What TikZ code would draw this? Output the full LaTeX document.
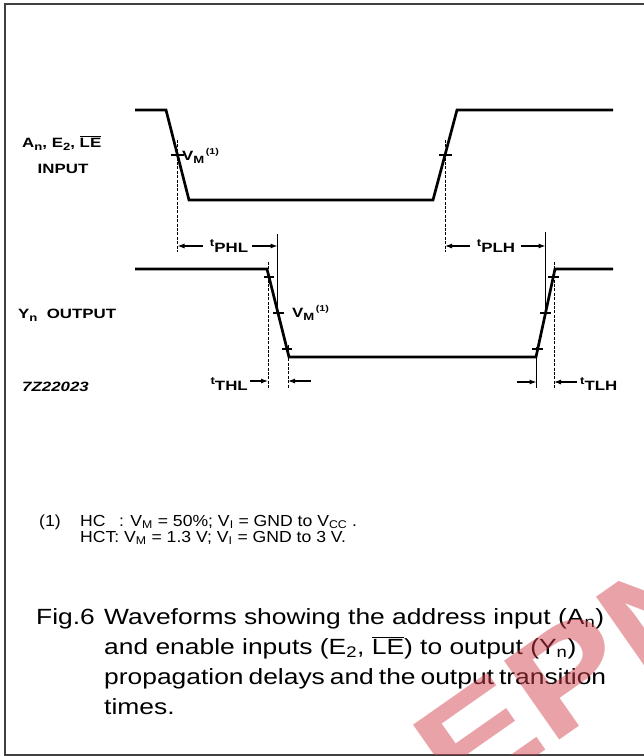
\documentclass[tikz,border=0pt]{standalone}
\usepackage{fontspec}
\setmainfont{Liberation Sans}[FakeStretch=1.2]
\newfontfamily\scan{Liberation Sans}[FakeStretch=1.25]
\newfontfamily\notefont{Liberation Sans}[FakeStretch=1.1]
\usetikzlibrary{arrows.meta}
\definecolor{wmred}{RGB}{208,62,73}
\newcommand\lsub[1]{\raisebox{-3pt}{\fontsize{10.5}{10.5}\selectfont #1}}
\newcommand\tlab[1]{\raisebox{6pt}{\fontsize{10.5}{10.5}\selectfont t}#1}
\newcommand\vmlab{V\lsub{M}\raisebox{5.5pt}{\fontsize{8.5}{8.5}\selectfont\,(1)}}
\begin{document}
\begin{tikzpicture}[x=1pt,y=-1pt,
  frame/.style={line width=2pt, draw=black!75},
  wave/.style={line width=2.7pt, line join=miter},
  tickmark/.style={line width=1.4pt},
  dsh/.style={line width=1pt, dash pattern=on 3pt off 1.4pt},
  solidv/.style={line width=1.1pt},
  dimarr/.style={line width=1.1pt, -{Latex[length=7pt,width=5pt]}},
  lbl/.style={inner sep=0pt, font=\scan\bfseries\fontsize{13.5}{13.5}\selectfont},
  captxt/.style={inner sep=0pt, font=\fontsize{22}{22}\selectfont},
  note/.style={inner sep=0pt, font=\notefont\fontsize{16}{16}\selectfont},
]
\useasboundingbox (0,0) rectangle (644,756);
% frame
\coordinate (fbl) at (5,754.5); \coordinate (ftl) at (5,3.5);
\coordinate (ftr) at (646,3.5); \coordinate (fbr) at (646,754.5);
\draw[frame] (fbr) -- (fbl) -- (ftl) -- (ftr);

% input waveform
\coordinate (i0) at (135,110); \coordinate (i1) at (166,110);
\coordinate (i2) at (189,200); \coordinate (i3) at (433,200);
\coordinate (i4) at (457,110); \coordinate (i5) at (613,110);
\draw[wave] (i0) -- (i1) -- (i2) -- (i3) -- (i4) -- (i5);
% output waveform
\coordinate (o0) at (135,269); \coordinate (o1) at (267,269);
\coordinate (o2) at (289,357); \coordinate (o3) at (536,357);
\coordinate (o4) at (555,269); \coordinate (o5) at (613,269);
\draw[wave] (o0) -- (o1) -- (o2) -- (o3) -- (o4) -- (o5);

% ticks on input
\coordinate (ta1) at (171,155); \coordinate (tb1) at (184,155);
\coordinate (ta2) at (439,155); \coordinate (tb2) at (452,155);
\draw[tickmark] (ta1) -- (tb1);
\draw[tickmark] (ta2) -- (tb2);
% ticks on output falling
\coordinate (ta3) at (264,277); \coordinate (tb3) at (274,277);
\coordinate (ta4) at (273,313); \coordinate (tb4) at (284,313);
\coordinate (ta5) at (282,349); \coordinate (tb5) at (292,349);
\draw[tickmark] (ta3) -- (tb3);
\draw[tickmark] (ta4) -- (tb4);
\draw[tickmark] (ta5) -- (tb5);
% ticks on output rising
\coordinate (ta6) at (532,349); \coordinate (tb6) at (543,349);
\coordinate (ta7) at (540,313); \coordinate (tb7) at (551,313);
\coordinate (ta8) at (548,277); \coordinate (tb8) at (559,277);
\draw[tickmark] (ta6) -- (tb6);
\draw[tickmark] (ta7) -- (tb7);
\draw[tickmark] (ta8) -- (tb8);

% vertical reference lines
\coordinate (d1a) at (177.5,140); \coordinate (d1b) at (177.5,252);
\coordinate (d2a) at (445,140);   \coordinate (d2b) at (445,252);
\draw[dsh] (d1a) -- (d1b);
\draw[dsh] (d2a) -- (d2b);
\coordinate (s1a) at (277.5,234); \coordinate (s1b) at (277.5,313);
\coordinate (s2a) at (545.5,232); \coordinate (s2b) at (545.5,313);
\draw[solidv] (s1a) -- (s1b);
\draw[solidv] (s2a) -- (s2b);
\coordinate (d3a) at (268,262); \coordinate (d3b) at (268,388);
\coordinate (d4a) at (288,345); \coordinate (d4b) at (288,388);
\coordinate (d5a) at (554,262); \coordinate (d5b) at (554,388);
\draw[dsh] (d3a) -- (d3b);
\draw[dsh] (d4a) -- (d4b);
\draw[dsh] (d5a) -- (d5b);
\coordinate (s3a) at (536.5,347); \coordinate (s3b) at (536.5,388);
\draw[solidv] (s3a) -- (s3b);

% dimension arrows
\coordinate (phlL0) at (203,246); \coordinate (phlL) at (177.5,246);
\coordinate (phlR0) at (252,246); \coordinate (phlR) at (277.5,246);
\draw[dimarr] (phlL0) -- (phlL);
\draw[dimarr] (phlR0) -- (phlR);
\coordinate (plhL0) at (470,246); \coordinate (plhL) at (445,246);
\coordinate (plhR0) at (521,246); \coordinate (plhR) at (545.5,246);
\draw[dimarr] (plhL0) -- (plhL);
\draw[dimarr] (plhR0) -- (plhR);
\coordinate (thlA0) at (250,381); \coordinate (thlA) at (268,381);
\coordinate (thlB0) at (311,381); \coordinate (thlB) at (288,381);
\draw[dimarr] (thlA0) -- (thlA);
\draw[dimarr] (thlB0) -- (thlB);
\coordinate (tlhA0) at (517,382); \coordinate (tlhA) at (536.5,382);
\coordinate (tlhB0) at (577,382); \coordinate (tlhB) at (554,382);
\draw[dimarr] (tlhA0) -- (tlhA);
\draw[dimarr] (tlhB0) -- (tlhB);

% labels
\node[lbl, anchor=west] (inname) at (22,143) {A\lsub{n}, E\lsub{2}, $\overline{\mbox{LE}}$};
\node[lbl] (input) at (63,169) {INPUT};
\node[lbl, anchor=west] (vm1) at (182,156) {\vmlab};
\node[lbl, anchor=west] (outname) at (18,315) {Y\lsub{n}\ \ OUTPUT};
\node[lbl, anchor=west, font=\scan\bfseries\itshape\fontsize{13.5}{13.5}\selectfont] (code) at (22,387) {7Z22023};
\node[lbl] (tphl) at (229,246) {\tlab{PHL}};
\node[lbl] (tplh) at (496,246) {\tlab{PLH}};
\node[lbl, anchor=west] (vm2) at (292,313) {\vmlab};
\node[lbl, anchor=east] (tthl) at (248,384) {\tlab{THL}};
\node[lbl, anchor=west] (ttlh) at (580,384) {\tlab{TLH}};

% footnote
\node[note, anchor=base west] (n1) at (39,526) {(1)};
\node[note, anchor=base west] (n2) at (80,526) {HC\phantom{T}\,: V\textsubscript{M} = 50\%; V\textsubscript{I} = GND to V\textsubscript{CC} .};
\node[note, anchor=base west] (n3) at (80,542) {HCT: V\textsubscript{M} = 1.3 V; V\textsubscript{I} = GND to 3 V.};

% caption
\node[captxt, anchor=base west] (fig) at (36,624) {Fig.6};
\node[captxt, anchor=base west] (c1) at (104,624) {Waveforms showing the address input (A\textsubscript{n})};
\node[captxt, anchor=base west] (c2) at (104,654) {and enable inputs (E\textsubscript{2}, $\overline{\mbox{LE}}$) to output (Y\textsubscript{n})};
\node[captxt, anchor=base west] (c3) at (104,684) {\spaceskip=5pt propagation delays and the output transition};
\node[captxt, anchor=base west] (c4) at (104,714) {times.};

% watermark (drawn over the caption, semi-transparent)
\begin{scope}
\clip (5,3.5) rectangle (644,754.5);
\node[inner sep=0pt, text=wmred, text opacity=0.48, rotate=35, font=\bfseries\fontsize{140}{140}\selectfont, anchor=base west] (wm) at (459,811) {EPN};
\end{scope}
\end{tikzpicture}
\end{document}
